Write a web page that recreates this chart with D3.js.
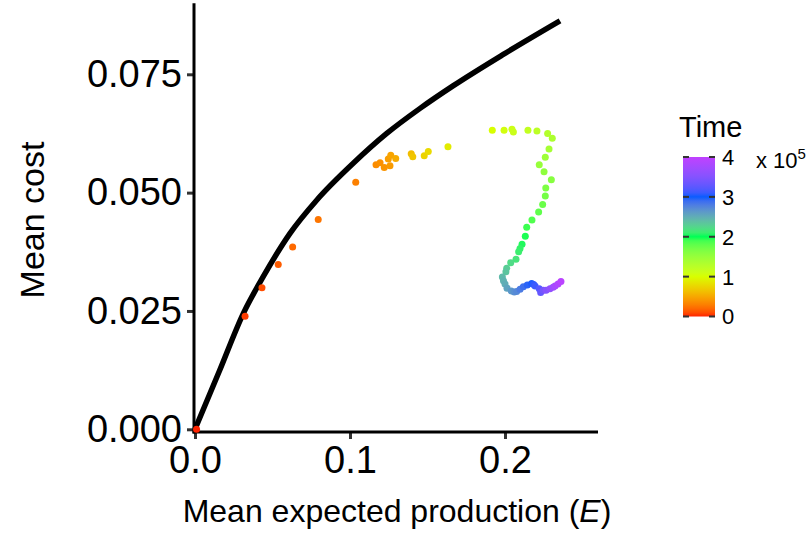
<!DOCTYPE html>
<html>
<head>
<meta charset="utf-8">
<script src="https://cdn.jsdelivr.net/npm/d3@7"></script>
<style>
  html, body { margin: 0; padding: 0; background: #fff; }
  svg { display: block; font-family: "Liberation Sans", Arial, Helvetica, sans-serif; }
</style>
</head>
<body>
<svg id="chart" width="811" height="533"></svg>
<script>
// ---- data ----
// Frontier curve (mean expected production E, mean cost)
const frontierE    = [0, 0.0156, 0.0312, 0.0441, 0.0613, 0.0785, 0.1021, 0.1237, 0.1452, 0.1667, 0.1989, 0.2355];
const frontierCost = [0, 0.0122, 0.0245, 0.0323, 0.0414, 0.0484, 0.0562, 0.0625, 0.0678, 0.0726, 0.0792, 0.0863];

// Trajectory points
const pointE = [0.001, 0.0323, 0.0432, 0.0537, 0.0630, 0.0795, 0.1037, 0.1168, 0.1194, 0.1221, 0.1258, 0.1247,
  0.1263, 0.1295, 0.1395, 0.1405, 0.1479, 0.1505, 0.1632, 0.1918, 0.1994, 0.2045, 0.2054, 0.2148, 0.2206,
  0.2275, 0.2305, 0.2284, 0.2260, 0.2221, 0.2252, 0.2299, 0.2263, 0.2260, 0.2243, 0.2217, 0.2174, 0.2140,
  0.2131, 0.2110, 0.2097, 0.2088, 0.2071, 0.2037, 0.2011, 0.2006, 0.1983, 0.1990, 0.2000, 0.2013, 0.2040,
  0.2060, 0.2075, 0.2097, 0.2118, 0.2144, 0.2172, 0.2185, 0.2194, 0.2221, 0.2230, 0.2247, 0.2265, 0.2290,
  0.2310, 0.2323, 0.2342, 0.2361];
const pointCost = [0.0000, 0.0239, 0.0299, 0.0348, 0.0385, 0.0443, 0.0522, 0.0559, 0.0563, 0.0553, 0.0557, 0.0571,
  0.0579, 0.0572, 0.0582, 0.0576, 0.0578, 0.0587, 0.0597, 0.0632, 0.0632, 0.0634, 0.0628, 0.0632, 0.0630,
  0.0625, 0.0615, 0.0592, 0.0575, 0.0559, 0.0544, 0.0527, 0.0510, 0.0493, 0.0475, 0.0459, 0.0442, 0.0427,
  0.0408, 0.0391, 0.0382, 0.0375, 0.0359, 0.0352, 0.0340, 0.0333, 0.0322, 0.0314, 0.0307, 0.0298, 0.0292,
  0.0290, 0.0291, 0.0296, 0.0301, 0.0305, 0.0308, 0.0306, 0.0303, 0.0297, 0.0289, 0.0294, 0.0294, 0.0297,
  0.0300, 0.0303, 0.0307, 0.0312];
const pointTime = [0.00, 0.05, 0.10, 0.15, 0.20, 0.25, 0.30, 0.36, 0.38, 0.40, 0.43, 0.45,
  0.48, 0.52, 0.62, 0.66, 0.74, 0.78, 0.88, 1.00, 1.05, 1.10, 1.12, 1.18, 1.23,
  1.30, 1.35, 1.40, 1.45, 1.50, 1.55, 1.60, 1.65, 1.70, 1.75, 1.80, 1.86, 1.92,
  1.98, 2.03, 2.07, 2.10, 2.16, 2.22, 2.30, 2.35, 2.42, 2.46, 2.50, 2.56, 2.63,
  2.68, 2.72, 2.80, 2.88, 2.95, 3.02, 3.06, 3.10, 3.20, 3.30, 3.40, 3.50, 3.60,
  3.70, 3.78, 3.87, 3.95];

const xTicks = [0, 0.1, 0.2];
const yTicks = [0, 0.025, 0.05, 0.075];
const timeTicks = [0, 1, 2, 3, 4];
const colorStops = ["#ff2400", "#d8ff00", "#00ff55", "#0a5cff", "#c040ff"];

// ---- scales ----
const svg = d3.select("#chart");
const x = d3.scaleLinear().domain([0, 0.26]).range([195, 598]);
const y = d3.scaleLinear().domain([0, 0.09]).range([429.3, 3.3]);
const color = d3.scaleLinear().domain(timeTicks).range(colorStops).interpolate(d3.interpolateLab);
const FONT = "Liberation Sans, Arial, sans-serif";

// ---- axes ----
const xAxis = svg.append("g").attr("transform", "translate(0,432)")
  .call(d3.axisBottom(x).tickValues(xTicks).tickFormat(d3.format(".1f")).tickSize(7).tickSizeOuter(0).tickPadding(7));
xAxis.select(".domain").remove();
xAxis.selectAll(".tick line").attr("stroke", "#333").attr("stroke-width", 3);
xAxis.selectAll(".tick text").attr("fill", "#000").attr("font-size", 38).attr("font-family", FONT);

const yAxis = svg.append("g").attr("transform", "translate(194,0)")
  .call(d3.axisLeft(y).tickValues(yTicks).tickFormat(d3.format(".3f")).tickSize(7).tickSizeOuter(0).tickPadding(5));
yAxis.select(".domain").remove();
yAxis.selectAll(".tick line").attr("stroke", "#333").attr("stroke-width", 3);
yAxis.selectAll(".tick text").attr("fill", "#000").attr("font-size", 38).attr("font-family", FONT);

// axis lines
svg.append("line").attr("x1", 194).attr("x2", 194).attr("y1", y(0.09)).attr("y2", 433.5)
  .attr("stroke", "#000").attr("stroke-width", 3);
svg.append("line").attr("x1", 192.5).attr("x2", x(0.26)).attr("y1", 432).attr("y2", 432)
  .attr("stroke", "#000").attr("stroke-width", 3);

// axis titles
svg.append("text").attr("x", 397).attr("y", 522).attr("text-anchor", "middle")
  .attr("font-size", 32).attr("fill", "#000")
  .call(t => {
    t.append("tspan").text("Mean expected production (");
    t.append("tspan").attr("font-style", "italic").text("E");
    t.append("tspan").text(")");
  });
svg.append("text").attr("transform", "translate(44,220) rotate(-90)").attr("text-anchor", "middle")
  .attr("font-size", 34).attr("fill", "#000").text("Mean cost");

// ---- frontier curve ----
const frontier = frontierE.map((e, i) => [e, frontierCost[i]]);
svg.append("path").datum(frontier)
  .attr("d", d3.line().x(d => x(d[0])).y(d => y(d[1])).curve(d3.curveMonotoneX))
  .attr("fill", "none").attr("stroke", "#000").attr("stroke-width", 5.5);

// ---- points ----
const pts = pointE.map((e, i) => ({ e, c: pointCost[i], t: pointTime[i] }));
svg.append("g").selectAll("circle").data(pts).join("circle")
  .attr("cx", d => x(d.e)).attr("cy", d => y(d.c)).attr("r", 3.5)
  .attr("fill", d => color(d.t));

// ---- legend ----
const lg = svg.append("g");
lg.append("text").attr("x", 679).attr("y", 137).attr("font-size", 29).attr("fill", "#000").text("Time");
const barX = 683, barW = 32;
const ly = d3.scaleLinear().domain([0, 4]).range([316.5, 157]);
const defs = svg.append("defs");
const grad = defs.append("linearGradient").attr("id", "tgrad").attr("x1", 0).attr("x2", 0).attr("y1", 1).attr("y2", 0);
d3.range(0, 41).forEach(i => {
  const v = i / 10;
  grad.append("stop").attr("offset", v / 4).attr("stop-color", color(v));
});
lg.append("rect").attr("x", barX).attr("y", ly(4)).attr("width", barW).attr("height", ly(0) - ly(4))
  .attr("fill", "url(#tgrad)");
timeTicks.forEach(v => {
  lg.append("line").attr("x1", barX).attr("x2", barX + 6).attr("y1", ly(v)).attr("y2", ly(v))
    .attr("stroke", "#333").attr("stroke-width", 2);
  lg.append("line").attr("x1", barX + barW - 6).attr("x2", barX + barW).attr("y1", ly(v)).attr("y2", ly(v))
    .attr("stroke", "#333").attr("stroke-width", 2);
  lg.append("text").attr("x", 722).attr("y", ly(v)).attr("dy", "0.36em")
    .attr("font-size", 22).attr("fill", "#000").text(v);
});
lg.append("text").attr("x", 756).attr("y", 168).attr("font-size", 22).attr("fill", "#000")
  .call(t => {
    t.append("tspan").text("x 10");
    t.append("tspan").attr("font-size", 15).attr("dy", -9).text("5");
  });
</script>
</body>
</html>
